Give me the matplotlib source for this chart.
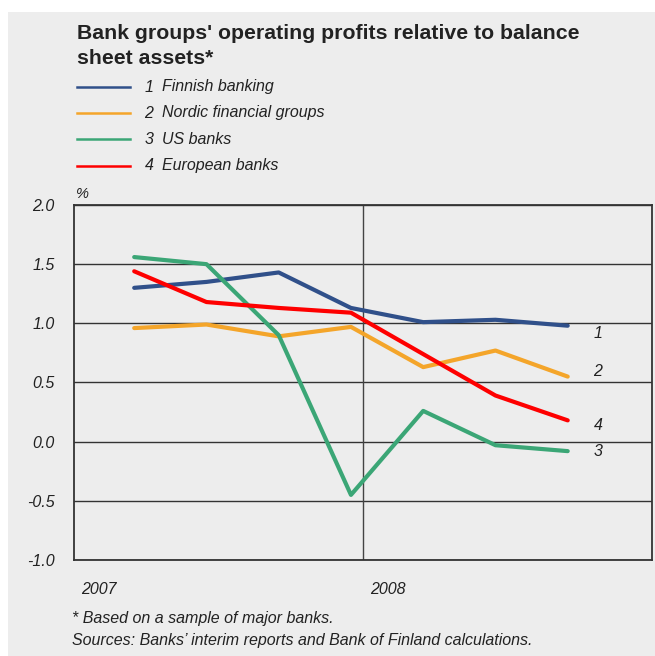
import matplotlib
matplotlib.use("Agg")
import matplotlib.pyplot as plt
from matplotlib.patches import Rectangle

plt.rcParams['font.family'] = ['Liberation Sans', 'DejaVu Sans']

# Data (x in months since start of 2007, quarterly observations)
months = [2.5, 5.5, 8.5, 11.5, 14.5, 17.5, 20.5]
finnish = [1.30, 1.35, 1.43, 1.13, 1.01, 1.03, 0.98]
nordic = [0.96, 0.99, 0.89, 0.97, 0.63, 0.77, 0.55]
us = [1.56, 1.50, 0.90, -0.45, 0.26, -0.03, -0.08]
european = [1.44, 1.18, 1.13, 1.09, 0.74, 0.39, 0.18]

series_names = ["Finnish banking", "Nordic financial groups", "US banks", "European banks"]
series_ids = ["1", "2", "3", "4"]
series_values = [finnish, nordic, us, european]
colors = ["#30508a", "#f4a52a", "#3ba676", "#fe0000"]

yticks = [-1.0, -0.5, 0.0, 0.5, 1.0, 1.5, 2.0]
year_labels = ["2007", "2008"]
year_label_pos = [1.05, 13.05]
year_boundary = 12

W, H = 655, 656
BG = "#ededed"
TXT = "#222222"
fig = plt.figure(figsize=(W / 100, H / 100), dpi=100, facecolor="white")
bg = Rectangle((8 / W, 0), 1, (H - 12) / H, transform=fig.transFigure,
               facecolor=BG, edgecolor="none", zorder=-10)
fig.add_artist(bg)

ax = fig.add_axes([74 / W, 1 - 560 / H, (652 - 74) / W, (560 - 205) / H])
ax.set_zorder(5)
ax.set_facecolor(BG)
ax.set_xlim(0, 24)
ax.set_ylim(-1.0, 2.0)

for y in yticks:
    ax.axhline(y, color="#333333", lw=1.0, zorder=1)
ax.axvline(year_boundary, color="#444444", lw=1.0, zorder=1)

for vals, col in zip(series_values, colors):
    ax.plot(months, vals, color=col, lw=3.0, solid_capstyle="round",
            solid_joinstyle="round", zorder=3)

# end labels
label_pix = {"1": 334, "2": 371, "3": 452, "4": 425}
for sid in series_ids:
    ypix = label_pix[sid]
    fig.text(598 / W, 1 - ypix / H, sid, fontsize=11.5, style="italic",
             color=TXT, ha="center", va="center", zorder=10)

for s in ax.spines.values():
    s.set_color("#333333")
    s.set_linewidth(1.3)

ax.set_yticks(yticks)
ax.set_yticklabels([f"{v:.1f}" for v in yticks], fontsize=11.5, style="italic", color=TXT)
ax.tick_params(axis="y", length=0, pad=14)
ax.set_xticks(year_label_pos)
ax.set_xticklabels(year_labels, fontsize=11.5, style="italic", color=TXT)
ax.tick_params(axis="x", length=0, pad=16)

# Title
fig.text(77 / W, 1 - 39 / H, "Bank groups' operating profits relative to balance",
         fontsize=15.3, fontweight="bold", color=TXT, ha="left", va="baseline")
fig.text(77 / W, 1 - 63.5 / H, "sheet assets*",
         fontsize=15.3, fontweight="bold", color=TXT, ha="left", va="baseline")

# Legend
leg_y = [87, 113, 139.3, 165.7]
for sid, name, col, yp in zip(series_ids, series_names, colors, leg_y):
    fig.add_artist(plt.Line2D([77 / W, 130 / W], [1 - yp / H, 1 - yp / H],
                              transform=fig.transFigure, color=col, lw=1.8))
    fig.text(149 / W, 1 - yp / H, sid, fontsize=11.5, style="italic", color=TXT,
             ha="center", va="center")
    fig.text(161.7 / W, 1 - yp / H, name, fontsize=11.5, style="italic", color=TXT,
             ha="left", va="center")

fig.text(76 / W, 1 - 194 / H, "%", fontsize=10.5, style="italic", color=TXT,
         ha="left", va="center")

fig.text(71.5 / W, 1 - 618 / H, "* Based on a sample of major banks.", fontsize=11.5,
         style="italic", color=TXT, ha="left", va="center")
fig.text(71.5 / W, 1 - 640 / H, "Sources: Banks\u2019 interim reports and Bank of Finland calculations.",
         fontsize=11.5, style="italic", color=TXT, ha="left", va="center")

fig.savefig("out.png", dpi=100, facecolor="white")
